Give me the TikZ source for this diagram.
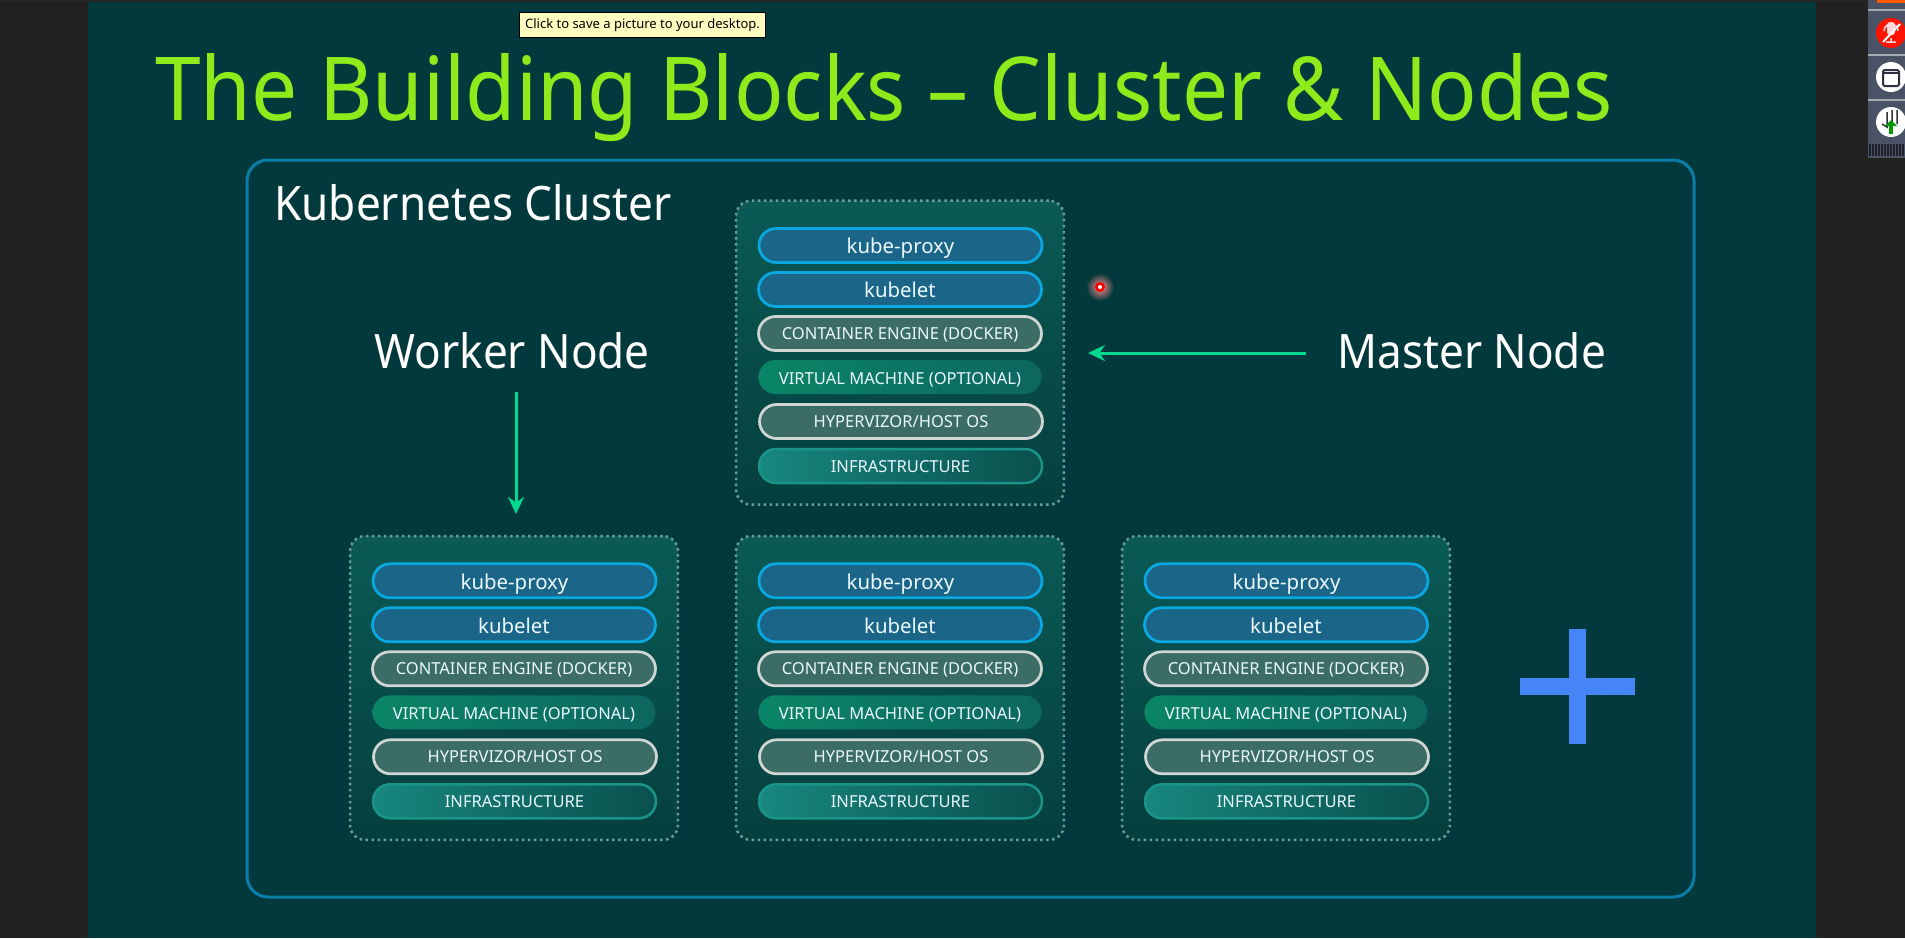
\documentclass[tikz,border=0pt]{standalone}
\usepackage{fontspec}
\setmainfont{Noto Sans}
\newfontfamily\headfont[FakeStretch=0.93]{Noto Sans}
\usepackage{xcolor}
\usetikzlibrary{positioning,arrows.meta}
\definecolor{slidebg}{HTML}{02393C}
\definecolor{framebg}{HTML}{212121}
\definecolor{clusterline}{HTML}{0A7EA6}
\definecolor{titlegreen}{HTML}{8FEA1C}
\definecolor{arrowgreen}{HTML}{00D88F}
\definecolor{paneltop}{HTML}{0A5A55}
\definecolor{panelbot}{HTML}{053F3E}
\definecolor{kubefill}{HTML}{1B6688}
\definecolor{kubeline}{HTML}{0AA8E0}
\definecolor{greyfill}{HTML}{3B6C66}
\definecolor{greyline}{HTML}{D0D6D3}
\definecolor{vmleft}{HTML}{0A8566}
\definecolor{vmright}{HTML}{0D6660}
\definecolor{infraleft}{HTML}{17877D}
\definecolor{infraright}{HTML}{0A504E}
\definecolor{infraline}{HTML}{1A9488}
\definecolor{plusblue}{HTML}{4585F5}
\definecolor{sidepanel}{HTML}{4A5266}
\tikzset{
  panel/.style={draw=white!40!paneltop,dotted,line width=.05cm,rounded corners=.3cm,top color=paneltop,bottom color=panelbot,minimum width=6.56cm,minimum height=6.08cm},
  pill/.style={rounded corners=.34cm,minimum width=5.66cm,minimum height=.68cm,inner sep=0pt,text=white!92!cyan,text height=.24cm,text depth=0pt,font=\fontsize{9.4}{11}\selectfont},
  kubepill/.style={pill,draw=kubeline,fill=kubefill,line width=.055cm,text height=.33cm,font=\fontsize{11.6}{14}\selectfont},
  greypill/.style={pill,draw=greyline,fill=greyfill,line width=.055cm},
  vmpill/.style={pill,left color=vmleft,right color=vmright,text height=.28cm},
  infrapill/.style={pill,draw=infraline,line width=.05cm,left color=infraleft,right color=infraright},
  biglabel/.style={text=white,inner sep=0pt,anchor=base west,font=\headfont\fontsize{27}{32}\selectfont},
  flow/.style={-{Stealth[length=.34cm,width=.32cm]},draw=arrowgreen,line width=.06cm},
}
% one node with its six layers
\newcommand{\nodestack}[3]{
  \begin{scope}[shift={(#2,#3)}]
    \node[panel] (#1box) at (164,152) {};
    \node[kubepill] (#1proxy) at (164.5,44.8) {kube-proxy};
    \node[kubepill] (#1kubelet) at (164,88.8) {kubelet};
    \node[greypill] (#1engine) at (164,132.8) {CONTAINER ENGINE (DOCKER)};
    \node[vmpill] (#1vm) at (164,176.3) {VIRTUAL MACHINE (OPTIONAL)};
    \node[greypill] (#1host) at (165,220.8) {HYPERVIZOR/HOST OS};
    \node[infrapill] (#1infra) at (164.5,265.3) {INFRASTRUCTURE};
  \end{scope}
}
\begin{document}
\begin{tikzpicture}[x=.02cm,y=-.02cm]
\useasboundingbox (0,0) rectangle (1905,938);
\fill[framebg] (0,0) rectangle (1905,938);
\fill[slidebg] (88,2) rectangle (1816,938);
\fill[black!70!gray] (0,0) rectangle (1905,2);

\node[text=titlegreen,inner sep=0pt,anchor=base west,font=\headfont\fontsize{50.2}{60}\selectfont] (title) at (155,120.5) {The Building Blocks – Cluster \& Nodes};
\node[draw=black,fill=yellow!25,line width=.03cm,inner sep=0pt,minimum width=4.92cm,minimum height=.5cm,font=\fontsize{7.4}{9}\selectfont] (tip) at (642.5,25) {Click to save a picture to your desktop.};

\draw[clusterline,line width=.06cm,rounded corners=.42cm] (247,160) rectangle (1694,897);
\node[biglabel] (cluster) at (274,220) {Kubernetes Cluster};
\node[biglabel] (worker) at (374,368) {Worker Node};
\node[biglabel] (master) at (1337,368) {Master Node};

\nodestack{m}{736}{200.7}
\nodestack{w}{350}{536}
\nodestack{a}{736}{536}
\nodestack{b}{1122}{536}

\coordinate (wfrom) at (516,392);
\coordinate (wto) at (516,514);
\coordinate (mfrom) at (1306,353);
\coordinate (mto) at (1088,353);
\draw[flow] (wfrom) -- (wto);
\draw[flow] (mfrom) -- (mto);

% plus sign
\fill[plusblue] (1569,629) rectangle (1586,744);
\fill[plusblue] (1520,678) rectangle (1635,695);

% pointer
\shade[inner color=red!45!white,outer color=slidebg] (1100,287) circle (14);
\fill[red] (1100,287) circle (5);
\fill[white] (1100,287) circle (2);

% side bar
\fill[sidepanel] (1868,0) rectangle (1905,158);
\foreach \yy in {10,55,100} \draw[white!50!sidepanel,line width=.03cm] (1868,\yy) -- (1905,\yy);
\fill[orange!70!red] (1877,0) rectangle (1905,3);
\fill[red!85!orange] (1891,33) circle (15);
\fill[white] (1891,77) circle (15);
\fill[white] (1891,122) circle (15);
\fill[white!85!red,rounded corners=.06cm] (1887,22) rectangle (1895,35);
\draw[white!85!red,line width=.03cm] (1884,31) arc (180:360:7) (1891,38) -- (1891,42) (1886,42) -- (1896,42);
\draw[white,line width=.04cm] (1883,42) -- (1900,24);
\draw[sidepanel!60!black,line width=.04cm,rounded corners=.03cm] (1883,70) rectangle (1899,86);
\draw[sidepanel!60!black,line width=.04cm] (1883,73) -- (1899,73);
\draw[sidepanel!60!black,line width=.03cm] (1882,124) -- (1887,127) -- (1887,112) (1892,110) -- (1892,122) (1897,110) -- (1897,124);
\fill[green!60!black] (1889,134) rectangle (1893,125);
\fill[green!60!black] (1885,126) -- (1891,120) -- (1897,126) -- cycle;
\foreach \xx in {1870,1873,...,1903} \draw[sidepanel!40!black,line width=.025cm] (\xx,144) -- (\xx,156);
\end{tikzpicture}
\end{document}
